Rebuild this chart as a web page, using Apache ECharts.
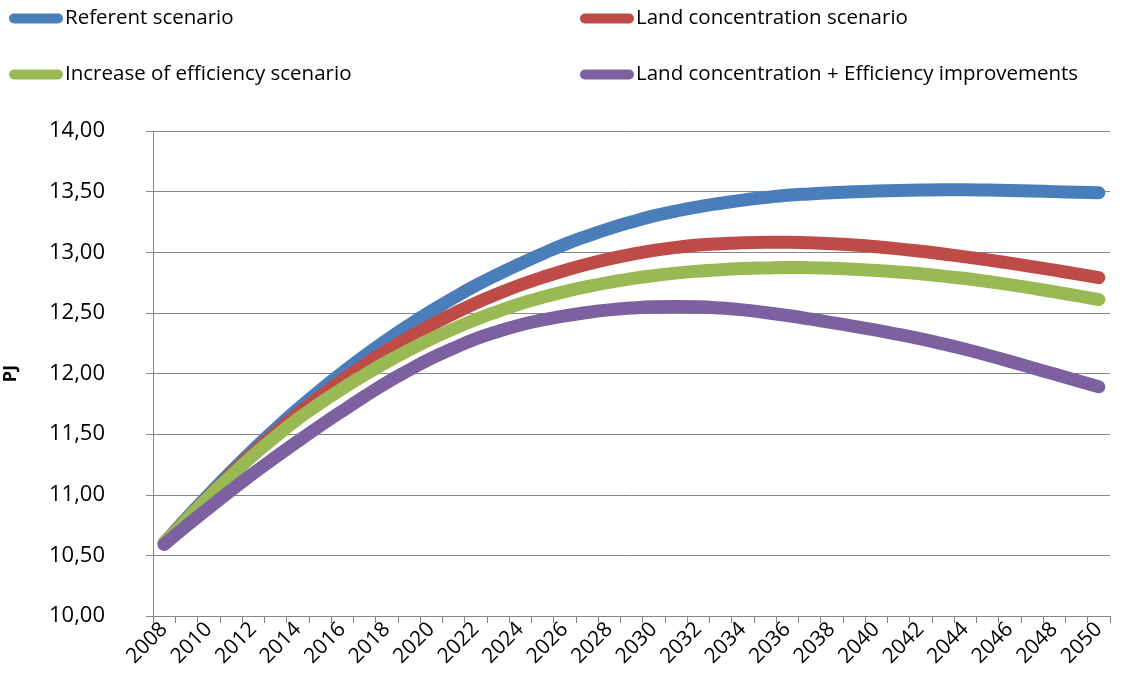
<!DOCTYPE html>
<html>
<head>
<meta charset="utf-8">
<script src="https://cdn.jsdelivr.net/npm/echarts@6/dist/echarts.min.js"></script>
<style>
html,body{margin:0;padding:0;background:#fff;}
#chart{width:1136px;height:688px;}
</style>
</head>
<body>
<div id="chart"></div>
<script>
var years = [];
for (var y = 2008; y <= 2050; y++) years.push(String(y));

var seriesNames = [
  'Referent scenario',
  'Land concentration scenario',
  'Increase of efficiency scenario',
  'Land concentration + Efficiency improvements'
];

var referent = [10.600,10.804,11.000,11.189,11.370,11.542,11.705,11.859,12.005,12.144,12.275,12.398,12.515,12.623,12.725,12.818,12.905,12.988,13.065,13.133,13.195,13.250,13.300,13.340,13.375,13.404,13.430,13.451,13.470,13.481,13.490,13.498,13.505,13.510,13.513,13.515,13.515,13.513,13.510,13.505,13.500,13.495,13.490];
var landConc = [10.600,10.795,10.985,11.168,11.345,11.508,11.665,11.808,11.945,12.071,12.190,12.298,12.400,12.493,12.580,12.658,12.730,12.793,12.850,12.901,12.945,12.983,13.015,13.040,13.060,13.071,13.078,13.082,13.083,13.078,13.070,13.059,13.045,13.028,13.008,12.986,12.962,12.937,12.910,12.882,12.852,12.822,12.790];
var efficiency = [10.600,10.792,10.980,11.155,11.325,11.478,11.625,11.753,11.875,11.988,12.095,12.193,12.285,12.368,12.445,12.513,12.575,12.628,12.675,12.716,12.752,12.782,12.807,12.828,12.844,12.856,12.865,12.871,12.875,12.873,12.868,12.860,12.850,12.837,12.822,12.803,12.783,12.759,12.733,12.704,12.673,12.642,12.610];
var landEff = [10.590,10.742,10.890,11.035,11.175,11.310,11.440,11.567,11.690,11.810,11.925,12.028,12.125,12.208,12.285,12.347,12.400,12.442,12.475,12.503,12.525,12.540,12.550,12.553,12.550,12.540,12.525,12.503,12.478,12.450,12.420,12.389,12.357,12.322,12.285,12.244,12.200,12.151,12.100,12.048,11.995,11.943,11.890];

var colors = ['#4A7EBB', '#BE4B48', '#98B954', '#7D60A0'];
var allData = [referent, landConc, efficiency, landEff];

var FONT = '"Open Sans", sans-serif';
var pill = 'path://M5,0 L50,0 A5,5 0 0 1 50,10 L5,10 A5,5 0 0 1 5,0 Z';

function mkLegend(name, left, top) {
  return {
    data: [name],
    left: left, top: top,
    padding: 0,
    icon: pill,
    itemWidth: 54, itemHeight: 10,
    itemGap: 0,
    selectedMode: false,
    textStyle: { fontFamily: FONT, fontSize: 20.5, color: '#000', padding: [0,0,0,-3] }
  };
}

var chart = echarts.init(document.getElementById('chart'), null, { renderer: 'canvas' });
chart.setOption({
  animation: false,
  backgroundColor: '#fff',
  color: colors,
  legend: [
    mkLegend(seriesNames[0], 9, 8),
    mkLegend(seriesNames[1], 580, 8),
    mkLegend(seriesNames[2], 9, 64),
    mkLegend(seriesNames[3], 580, 64)
  ],
  grid: { left: 153, right: 26, top: 131, bottom: 72, containLabel: false, outerBoundsMode: 'none' },
  xAxis: {
    type: 'category',
    data: years,
    boundaryGap: true,
    axisLine: { lineStyle: { color: '#868686', width: 1 } },
    axisTick: { show: true, interval: 0, length: 7, lineStyle: { color: '#868686' } },
    axisLabel: { interval: 1, rotate: 45, margin: 10, fontFamily: FONT, fontSize: 21, color: '#000' },
    splitLine: { show: false }
  },
  yAxis: {
    type: 'value',
    min: 10, max: 14, interval: 0.5,
    name: 'PJ',
    nameLocation: 'middle',
    nameGap: 133,
    nameRotate: 90,
    nameTextStyle: { fontFamily: FONT, fontSize: 18, fontWeight: 'bold', color: '#000' },
    axisLine: { show: true, lineStyle: { color: '#868686', width: 1 } },
    axisTick: { show: true, length: 7, lineStyle: { color: '#868686' } },
    axisLabel: {
      margin: 48, fontFamily: FONT, fontSize: 22, color: '#000',
      formatter: function (v) { return v.toFixed(2).replace('.', ','); }
    },
    splitLine: { show: true, lineStyle: { color: '#868686', width: 1 } }
  },
  series: seriesNames.map(function (n, i) {
    return {
      name: n,
      type: 'line',
      data: allData[i],
      smooth: true,
      showSymbol: false,
      symbol: 'none',
      lineStyle: { width: 13, color: colors[i], cap: 'round', join: 'round' },
      itemStyle: { color: colors[i] },
      z: 2 + i
    };
  })
});
</script>
</body>
</html>
